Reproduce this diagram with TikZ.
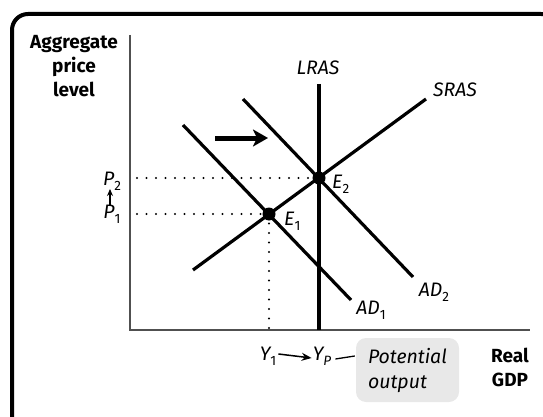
\documentclass[tikz,border=0pt]{standalone}
\usepackage{fontspec}
\setmainfont{Fira Sans}
\usetikzlibrary{arrows.meta}
\definecolor{boxgray}{HTML}{E8E8E8}
\definecolor{axisgray}{HTML}{505050}
\newcommand\lsub[1]{\raisebox{-0.45ex}{\fontsize{13.5}{14}\selectfont #1}}
\tikzset{
  curve/.style={line width=3.2pt},
  axisline/.style={line width=1.8pt, color=axisgray},
  dotline/.style={line width=2.2pt, line cap=round, dash pattern=on 0pt off 9.5pt},
  eqdot/.style={circle, fill=black, inner sep=0pt, minimum size=13pt},
  lbl/.style={font=\fontsize{19.5}{22}\selectfont\itshape, inner sep=1pt},
  blbl/.style={font=\fontsize{19}{24}\selectfont\bfseries, align=center, inner sep=1pt},
}
\begin{document}
\begin{tikzpicture}[x=1pt,y=-1pt]
\useasboundingbox (0,0) rectangle (543,417);
\begin{scope}
\clip (0,0) rectangle (543,417);
\draw[line width=4pt, rounded corners=16pt] (12,14) rectangle (557,432);
\end{scope}

% axes
\coordinate (ytop) at (130,35);
\coordinate (orig) at (130,330);
\coordinate (xend) at (530,330);
\draw[axisline] (ytop) -- (orig) -- (xend);

% key points
\coordinate (E1) at (269,214);
\coordinate (E2) at (319,178);
\coordinate (P1ax) at (130,214);
\coordinate (P2ax) at (130,178);
\coordinate (Y1ax) at (269,330);

% dotted guides
\draw[dotline] (P2ax) ++(7,0) -- (E2);
\draw[dotline] (P1ax) ++(7,0) -- (E1);
\draw[dotline] (E1) -- (Y1ax);

% curves
\coordinate (lrasT) at (319,84);
\coordinate (lrasB) at (319,330);
\coordinate (srasA) at (193,270);
\coordinate (srasB) at (426,99);
\coordinate (ad1A) at (183,125);
\coordinate (ad1B) at (351,300);
\coordinate (ad2A) at (243,99);
\coordinate (ad2B) at (413,277);
\draw[curve] (lrasT) -- (lrasB);
\draw[curve] (srasA) -- (srasB);
\draw[curve] (ad1A) -- (ad1B);
\draw[curve] (ad2A) -- (ad2B);

\node[eqdot] (e1dot) at (E1) {};
\node[eqdot] (e2dot) at (E2) {};

% shift arrow
\coordinate (shA) at (215,138);
\coordinate (shB) at (268,138);
\draw[line width=5pt, -{Stealth[length=15pt,width=17pt,inset=4pt]}] (shA) -- (shB);

% labels
\node[blbl] (yl) at (74,66) {Aggregate\\price\\level};
\node[blbl] (xl) at (510,367) {Real\\GDP};
\node[lbl] (lras) at (318,68) {LRAS};
\node[lbl] (sras) at (455,90) {SRAS};
\node[lbl, anchor=west] (e2) at (331,184) {E\lsub{\upshape 2}};
\node[lbl, anchor=west] (e1) at (283,221) {E\lsub{\upshape 1}};
\node[lbl] (ad1) at (371,310) {AD\lsub{\upshape 1}};
\node[lbl] (ad2) at (434,292) {AD\lsub{\upshape 2}};
\node[lbl] (p2) at (112,181) {P\lsub{\upshape 2}};
\node[lbl] (p1) at (112,214) {P\lsub{\upshape 1}};
\coordinate (pa) at (110,205);
\coordinate (pb) at (110,189);
\draw[line width=1.3pt, -{Stealth[length=7pt,width=6pt]}] (pa) -- (pb);
\node[lbl] (y1) at (268,356) {Y\lsub{\upshape 1}};
\node[lbl] (yp) at (322,356) {Y\lsub{P}};
\draw[line width=1.5pt, -{Stealth[length=10pt,width=8pt]}] (y1.east) ++(1,-2) -- ([yshift=-2pt]yp.west);
\node[fill=boxgray, rounded corners=10pt, minimum width=103pt, minimum height=64pt, inner sep=0pt,
      align=left, font=\fontsize{19.5}{25}\selectfont\itshape] (pot) at (407.5,370) {Potential\\output};
\draw[line width=1.3pt] ([xshift=3pt,yshift=-3pt]yp.east) -- ([xshift=-1pt]yp.east -| pot.west);
\end{tikzpicture}
\end{document}
